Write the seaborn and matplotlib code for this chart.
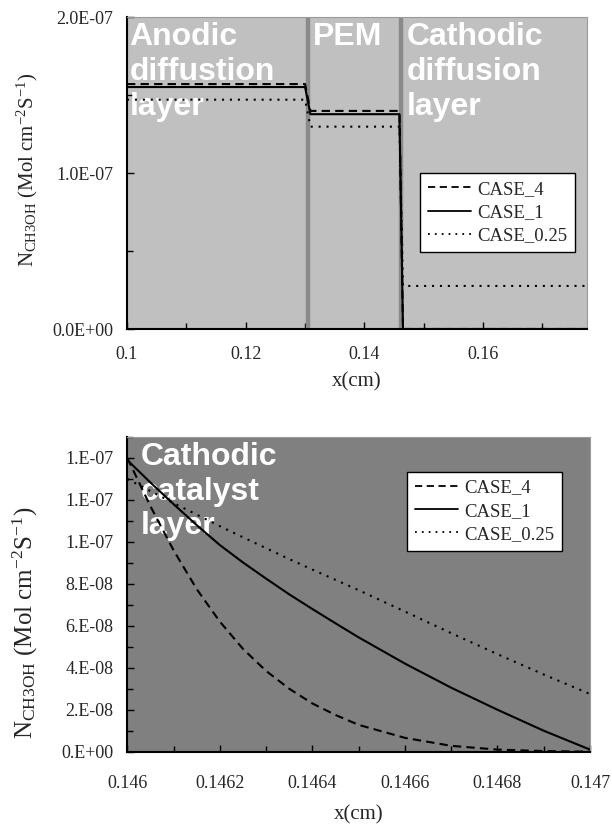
import numpy as np
import pandas as pd
import matplotlib
matplotlib.use("Agg")
import matplotlib.pyplot as plt
from matplotlib.ticker import MultipleLocator, FuncFormatter
import seaborn as sns

# ---------------- data ----------------
cases = ["CASE_4", "CASE_1", "CASE_0.25"]

# top panel: membrane-electrode profile (x in cm, flux in 1e-7 mol cm^-2 s^-1)
x_top = [0.100, 0.130, 0.1309, 0.1459, 0.1465, 0.1775]
case4_top = [1.570, 1.570, 1.398, 1.398, 0.000, 0.000]
case1_top = [1.551, 1.551, 1.377, 1.377, 0.000, 0.000]
case025_top = [1.470, 1.470, 1.297, 1.297, 0.276, 0.276]

# bottom panel: cathodic catalyst layer (flux in 1e-8)
x_bot = [0.14600, 0.14605, 0.14610, 0.14615, 0.14620, 0.14625, 0.14630, 0.14635,
         0.14640, 0.14645, 0.14650, 0.14660, 0.14670, 0.14680, 0.14690, 0.14700]
case4_bot = [14.0, 11.7, 9.6, 7.75, 6.2, 4.9, 3.85, 3.0,
             2.3, 1.75, 1.28, 0.66, 0.28, 0.1, 0.03, 0.0]
case1_bot = [13.9, 12.83, 11.8, 10.8, 9.85, 9.02, 8.25, 7.5,
             6.8, 6.12, 5.45, 4.2, 3.05, 2.0, 1.0, 0.1]
case025_bot = [13.0, 12.42, 11.85, 11.3, 10.75, 10.22, 9.7, 9.18,
               8.68, 8.19, 7.7, 6.68, 5.65, 4.65, 3.68, 2.75]

boundaries_top = [0.1305, 0.1462]
region_labels_top = [(0.1004, "Anodic\ndiffustion\nlayer"), (0.1314, "PEM"), (0.1471, "Cathodic\ndiffusion\nlayer")]

ylabel = r"N$_{\mathrm{CH3OH}}$ (Mol cm$^{-2}$S$^{-1}$)"

df_top = pd.DataFrame({
    "x": x_top * 3,
    "y": [v * 1e-7 for v in case4_top + case1_top + case025_top],
    "case": [c for c in cases for _ in x_top],
})
df_bot = pd.DataFrame({
    "x": x_bot * 3,
    "y": [v * 1e-8 for v in case4_bot + case1_bot + case025_bot],
    "case": [c for c in cases for _ in x_bot],
})

# ---------------- style ----------------
sns.set_theme(style="white")
plt.rcParams["font.family"] = ["Liberation Serif", "DejaVu Serif"]
plt.rcParams["mathtext.fontset"] = "custom"
plt.rcParams["mathtext.rm"] = "Liberation Serif"
plt.rcParams["mathtext.it"] = "Liberation Serif:italic"

dashes = {"CASE_4": (4, 2.5), "CASE_1": "", "CASE_0.25": (1, 2.8)}
palette = {c: "black" for c in cases}

fig = plt.figure(figsize=(6.12, 8.24), dpi=100)
W, H = 612.0, 824.0
ax1 = fig.add_axes([127 / W, 1 - 329 / H, (587 - 127) / W, (329 - 17) / H])
ax2 = fig.add_axes([127.3 / W, 1 - 751.7 / H, (590 - 127.3) / W, (751.7 - 437) / H])

label_kw = dict(color="white", fontweight="bold", fontsize=23,
                family=["Liberation Sans", "DejaVu Sans"], va="top", ha="left",
                linespacing=1.2)

def style_axes(ax, face, xpad):
    ax.set_facecolor(face)
    for s in ["left", "bottom"]:
        ax.spines[s].set_color("black")
        ax.spines[s].set_linewidth(1.5)
    for s in ["top", "right"]:
        ax.spines[s].set_color("#9a9a9a")
        ax.spines[s].set_linewidth(0.8)
    ax.tick_params(axis="both", which="both", direction="in", color="black",
                   labelsize=13, top=False, right=False, left=True, bottom=True)
    ax.tick_params(which="major", length=5, width=1)
    ax.tick_params(which="minor", length=4, width=1)
    ax.tick_params(axis="y", pad=10)
    ax.tick_params(axis="x", pad=xpad)

def add_legend(ax, x, y):
    handles = []
    for c in cases:
        ln = plt.Line2D([], [], color="black", lw=1.3)
        if dashes[c]:
            ln.set_dashes(dashes[c])
        handles.append(ln)
    leg = ax.legend(handles, cases, loc="upper left", bbox_to_anchor=(x, y),
                    borderaxespad=0, frameon=True, fancybox=False, edgecolor="black",
                    facecolor="white", framealpha=1, fontsize=13.5,
                    handlelength=2.3, handletextpad=0.3, labelspacing=0.32,
                    borderpad=0.42)
    leg.get_frame().set_linewidth(1.0)

# ---------------- top panel ----------------
style_axes(ax1, "#c0c0c0", 12)
for b in boundaries_top:
    ax1.axvline(b, color="#8a8a8a", lw=3.2, zorder=1)
for xt, txt in region_labels_top:
    ax1.text(xt, 1.965e-7, txt, zorder=2, **label_kw)
sns.lineplot(data=df_top, x="x", y="y", hue="case", style="case", palette=palette,
             dashes=dashes, hue_order=cases, style_order=cases, lw=1.5, ax=ax1,
             legend=False, sort=False, estimator=None, zorder=3)
ax1.set_xlim(0.1, 0.1775)
ax1.set_ylim(0, 2.0e-7)
ax1.xaxis.set_major_locator(MultipleLocator(0.02))
ax1.xaxis.set_minor_locator(MultipleLocator(0.01))
ax1.yaxis.set_major_locator(MultipleLocator(1e-7))
ax1.yaxis.set_minor_locator(MultipleLocator(0.5e-7))
ax1.xaxis.set_major_formatter(FuncFormatter(lambda v, p: f"{v:g}"))
ax1.yaxis.set_major_formatter(FuncFormatter(lambda v, p: f"{v:.1E}"))
ax1.set_xlabel("x(cm)", fontsize=15, va="center")
ax1.xaxis.set_label_coords(0.5, -52.7 / 312)
ax1.set_ylabel(ylabel, fontsize=15, va="center")
ax1.yaxis.set_label_coords(-100 / 460, 0.51)
add_legend(ax1, 0.638, 0.50)

# ---------------- bottom panel ----------------
style_axes(ax2, "#808080", 17)
ax2.text(0.146028, 1.475e-7, "Cathodic\ncatalyst\nlayer", zorder=2, **label_kw)
sns.lineplot(data=df_bot, x="x", y="y", hue="case", style="case", palette=palette,
             dashes=dashes, hue_order=cases, style_order=cases, lw=1.5, ax=ax2,
             legend=False, sort=False, estimator=None, zorder=3)
ax2.set_xlim(0.146, 0.147)
ax2.set_ylim(0, 1.5e-7)
ax2.xaxis.set_major_locator(MultipleLocator(0.0002))
ax2.xaxis.set_minor_locator(MultipleLocator(0.0001))
ax2.yaxis.set_major_locator(MultipleLocator(2e-8))
ax2.yaxis.set_minor_locator(MultipleLocator(1e-8))
ax2.xaxis.set_major_formatter(FuncFormatter(lambda v, p: f"{round(v, 5):g}"))
ax2.yaxis.set_major_formatter(FuncFormatter(lambda v, p: "%#.0E" % v))
ax2.set_xlabel("x(cm)", fontsize=15, va="center")
ax2.xaxis.set_label_coords(0.5, -63.3 / 314.7)
ax2.set_ylabel(ylabel, fontsize=18, va="center")
ax2.yaxis.set_label_coords(-102 / 462.7, 0.41)
add_legend(ax2, 0.605, 0.89)

fig.savefig("out.png", dpi=100)
